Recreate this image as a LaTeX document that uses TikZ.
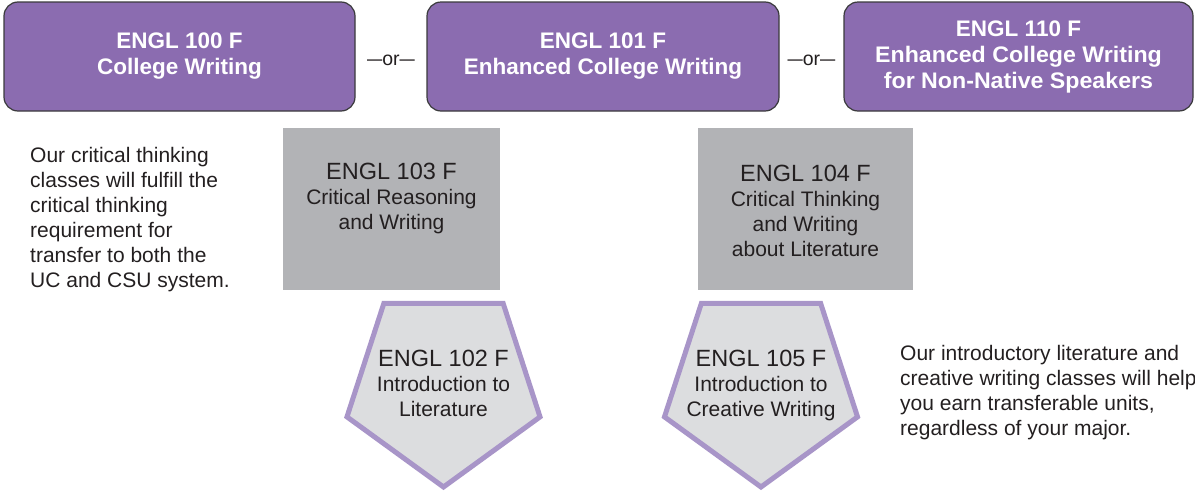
\documentclass[tikz,border=0pt]{standalone}
\usepackage{fontspec}
\setmainfont{Liberation Sans}
\usetikzlibrary{shapes.geometric}
\definecolor{purp}{RGB}{139,108,176}
\definecolor{purpedge}{RGB}{58,58,60}
\definecolor{grayb}{RGB}{178,179,182}
\definecolor{pentfill}{RGB}{220,221,223}
\definecolor{pentedge}{RGB}{168,149,200}
\definecolor{ink}{RGB}{35,31,32}
\newcommand{\codeline}{\fontsize{23.5}{25}\selectfont}
\newcommand{\ordash}{\scalebox{0.78}[1]{—}}
\newcommand{\wideline}[1]{\scalebox{1.03}[1]{#1}}
\tikzset{
  purplebox/.style={draw=purpedge, line width=1.2pt, fill=purp, rounded corners=14pt,
    text=white, font=\bfseries\fontsize{22.5}{26}\selectfont, align=center, inner sep=0pt,
    minimum height=109pt},
  graybox/.style={fill=grayb, draw=none, inner sep=0pt, minimum width=217pt, minimum height=162pt},
  pentbox/.style={regular polygon, regular polygon sides=5, shape border rotate=180,
    minimum size=203pt, inner sep=0pt, fill=pentfill, draw=pentedge, line width=5pt},
  boxtext/.style={text=ink, align=center, inner sep=0pt, anchor=north,
    font=\fontsize{21}{25}\selectfont},
  sidetext/.style={text=ink, align=left, inner sep=0pt, anchor=north west,
    font=\fontsize{21}{25}\selectfont},
  ortext/.style={text=ink, font=\fontsize{19.5}{22}\selectfont, inner sep=0pt, anchor=base}
}
\begin{document}
\begin{tikzpicture}[x=1pt,y=-1pt]
\useasboundingbox (0,0) rectangle (1195,493);
% top purple boxes
\node[purplebox, minimum width=351pt] (c100) at (179.5,56.5) {ENGL 100 F\\College Writing};
\node[purplebox, minimum width=352pt] (c101) at (603,56.5) {ENGL 101 F\\Enhanced College Writing};
\node[purplebox, minimum width=349pt] (c110) at (1018.5,56.5)
  {ENGL 110 F\\\wideline{Enhanced College Writing}\\\wideline{for Non-Native Speakers}};
\node[ortext] (or1) at (391,65) {\ordash or\ordash};
\node[ortext] (or2) at (811.5,65) {\ordash or\ordash};
% gray boxes
\node[graybox] (g103) at (391.5,209) {};
\node[boxtext] (t103) at (391.5,163) {{\codeline ENGL 103 F}\\Critical Reasoning\\and Writing};
\node[graybox, minimum width=215pt] (g104) at (805.5,209) {};
\node[boxtext] (t104) at (805.5,165) {{\codeline ENGL 104 F}\\Critical Thinking\\and Writing\\about Literature};
% pentagons
\node[pentbox] (p102) at (443.5,385.5) {};
\node[boxtext] (t102) at (443.5,350) {{\codeline ENGL 102 F}\\Introduction to\\Literature};
\node[pentbox] (p105) at (761,385.5) {};
\node[boxtext] (t105) at (761,350) {{\codeline ENGL 105 F}\\Introduction to\\Creative Writing};
% side notes
\node[sidetext] (noteL) at (30,147) {Our critical thinking\\classes will fulfill the\\critical thinking\\requirement for\\transfer to both the\\UC and CSU system.};
\node[sidetext] (noteR) at (900,345) {Our introductory literature and\\creative writing classes will help\\you earn transferable units,\\regardless of your major.};
\end{tikzpicture}
\end{document}
